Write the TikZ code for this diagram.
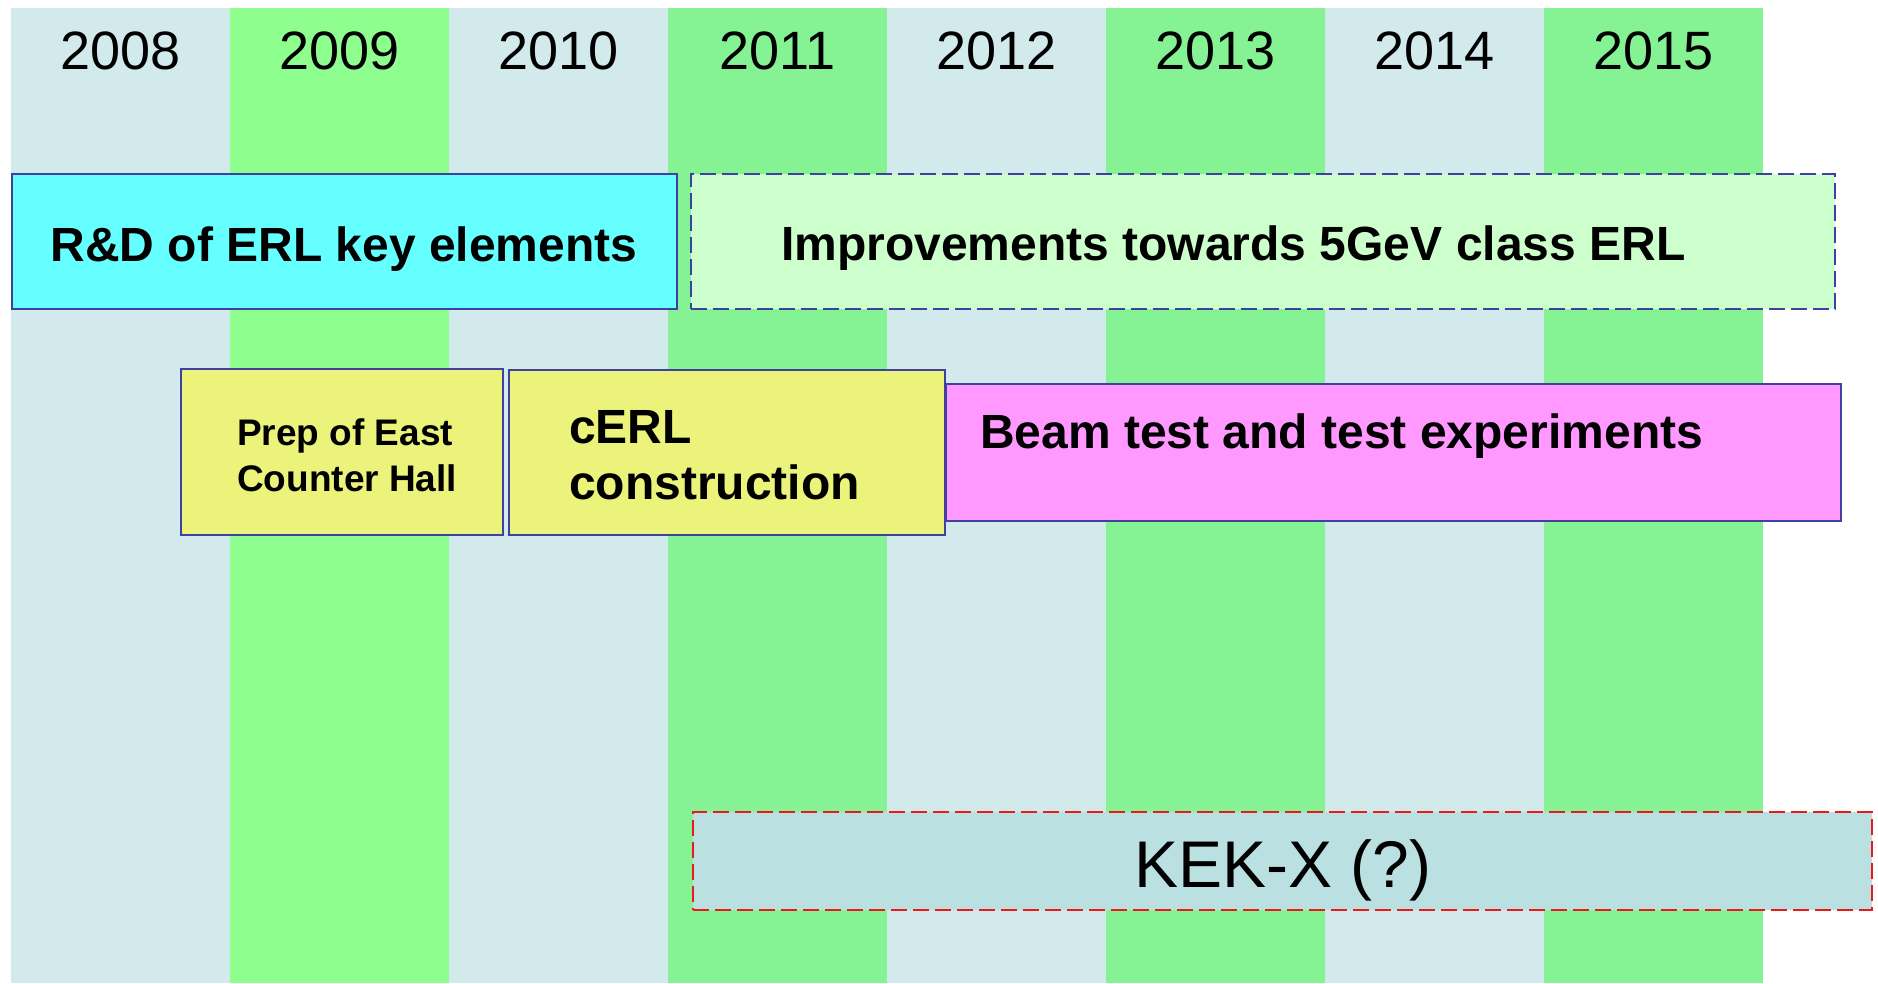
\documentclass[tikz,border=0pt]{standalone}
\usepackage{fontspec}
\setmainfont{Liberation Sans}
\definecolor{lb}{RGB}{210,234,236}
\definecolor{ga}{RGB}{142,255,142}
\definecolor{gb}{RGB}{133,242,148}
\definecolor{boxblue}{RGB}{64,64,160}
\definecolor{cyanfill}{RGB}{102,255,255}
\definecolor{impfill}{RGB}{204,255,204}
\definecolor{yelfill}{RGB}{236,243,122}
\definecolor{pinkfill}{RGB}{255,153,255}
\definecolor{kekfill}{RGB}{186,224,226}
\definecolor{kekred}{RGB}{235,25,25}
\begin{document}
\begin{tikzpicture}[x=1pt,y=-1pt,
  box/.style={rectangle, draw=boxblue, line width=2pt, inner sep=0pt},
  dashbox/.style={rectangle, line width=2.2pt, inner sep=0pt, dash pattern=on 16pt off 6pt},
  yearlbl/.style={inner sep=0pt, font=\fontsize{54}{60}\selectfont},
  bigbold/.style={inner sep=0pt, font=\fontsize{48}{56}\selectfont\bfseries},
  smallbold/.style={inner sep=0pt, font=\fontsize{37}{46}\selectfont\bfseries},
  keklbl/.style={inner sep=0pt, font=\fontsize{66}{72}\selectfont}]
\useasboundingbox (0,0) rectangle (1878,983);
\fill[white] (0,0) rectangle (1878,983);
\foreach \i/\yr/\c in {0/2008/lb,1/2009/ga,2/2010/lb,3/2011/gb,4/2012/lb,5/2013/gb,6/2014/lb,7/2015/gb}{
  \fill[\c] ({11+219*\i},8) rectangle ({11+219*(\i+1)},983);
  \node[yearlbl, anchor=base] (y\yr) at ({11+219*\i+109.5},69) {\yr};
}
% R&D
\node[box, fill=cyanfill, minimum width=665pt, minimum height=135pt] (rd) at (344.5,241.5) {};
\node[bigbold, anchor=base] (rdt) at (344,261) {R\&D of ERL key elements};
% Improvements
\node[dashbox, draw=boxblue, fill=impfill, minimum width=1144pt, minimum height=135pt] (imp) at (1263,241.5) {};
\node[bigbold, anchor=base west] (impt) at (781,260) {Improvements towards 5GeV class ERL};
% Prep
\node[box, fill=yelfill, minimum width=322pt, minimum height=166pt] (prep) at (342,452) {};
\node[smallbold, anchor=base west] (prept1) at (237,445) {Prep of East};
\node[smallbold, anchor=base west] (prept2) at (237,491) {Counter Hall};
% cERL
\node[box, fill=yelfill, minimum width=436pt, minimum height=165pt] (cerl) at (727,452.5) {};
\node[bigbold, anchor=base west] (cerlt1) at (569,443) {cERL};
\node[bigbold, anchor=base west] (cerlt2) at (569,499) {construction};
% Beam test
\node[box, fill=pinkfill, minimum width=895pt, minimum height=137pt] (beam) at (1393.5,452.5) {};
\node[bigbold, anchor=base west] (beamt) at (980,448) {Beam test and test experiments};
% KEK-X
\node[dashbox, draw=kekred, fill=kekfill, minimum width=1179pt, minimum height=98pt] (kek) at (1282.5,861) {};
\node[keklbl, anchor=base] (kekt) at (1283,887) {KEK-X (?)};
\end{tikzpicture}
\end{document}
